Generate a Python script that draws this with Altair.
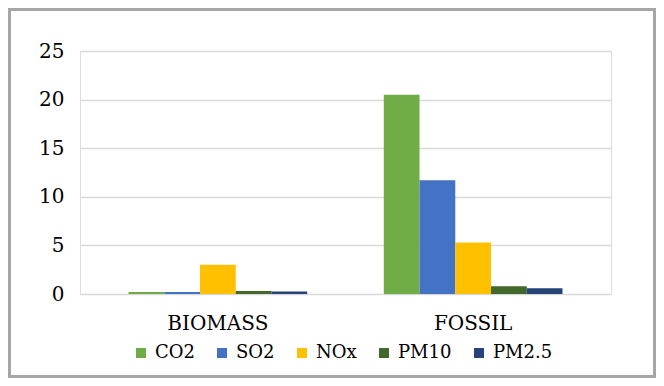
import altair as alt
import pandas as pd

categories = ["BIOMASS", "FOSSIL"]
series = ["CO2", "SO2", "NOx", "PM10", "PM2.5"]
biomass_values = [0.2, 0.2, 3.0, 0.3, 0.25]
fossil_values = [20.5, 11.7, 5.3, 0.8, 0.6]
colors = ["#70ad47", "#4472c4", "#ffc000", "#43682b", "#264478"]
y_ticks = [0, 5, 10, 15, 20, 25]

rows = []
for cat, vals in zip(categories, [biomass_values, fossil_values]):
    for s, v in zip(series, vals):
        rows.append({"category": cat, "series": s, "value": v})
df = pd.DataFrame(rows)

FONT = "DejaVu Serif"
W, H = 531, 243

bars = alt.Chart(df).mark_bar(stroke=None).encode(
    x=alt.X("category:N", sort=categories,
            scale=alt.Scale(paddingInner=0.3, paddingOuter=0.19),
            axis=alt.Axis(title=None, labelAngle=0, labelFont=FONT, labelFontSize=20,
                          labelColor="#000000", ticks=False, domain=False,
                          labelPadding=19, grid=False)),
    xOffset=alt.XOffset("series:N", sort=series),
    y=alt.Y("value:Q", scale=alt.Scale(domain=[0, 25]),
            axis=alt.Axis(title=None, values=y_ticks, labelFont=FONT, labelFontSize=20,
                          labelColor="#000000", ticks=False, domain=False,
                          labelPadding=16, grid=True, gridColor="#d9d9d9",
                          gridWidth=1.5)),
    color=alt.Color("series:N", sort=series,
                    scale=alt.Scale(domain=series, range=colors),
                    legend=alt.Legend(title=None, orient="none", direction="horizontal",
                                      legendX=52, legendY=293, padding=0,
                                      symbolType="square", symbolSize=100,
                                      symbolStrokeWidth=0,
                                      labelFont=FONT, labelFontSize=18,
                                      labelColor="#000000", columnPadding=18,
                                      labelOffset=5)),
)

border = alt.Chart(pd.DataFrame({"a": [0]})).mark_rect(
    fill=None, stroke="#a6a6a6", strokeWidth=3, clip=False
).encode(
    x=alt.value(-72 + 1.5), x2=alt.value(W + 45 - 1.5),
    y=alt.value(-43 + 1.5), y2=alt.value(H + 84 - 1.5),
)

chart = alt.layer(bars, border).properties(
    width=W, height=H,
    autosize=alt.AutoSizeParams(type="none"),
    padding={"left": 72, "top": 43, "right": 45, "bottom": 84},
).configure_view(stroke=None).configure(background="#ffffff")

chart.save("out.html", embed_options={"renderer": "svg", "actions": False})
